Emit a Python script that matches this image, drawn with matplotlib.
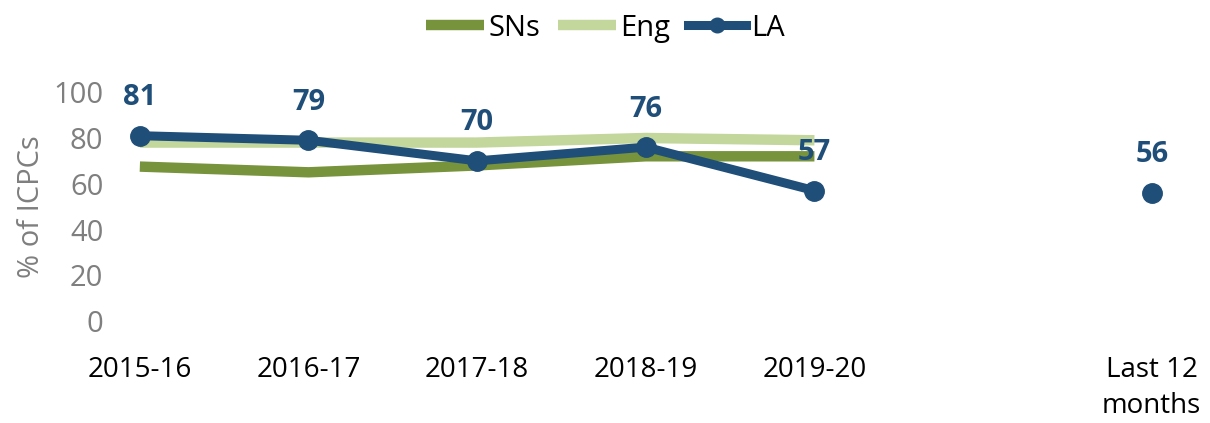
import numpy as np
import matplotlib.pyplot as plt

plt.rcParams['font.family'] = ['Open Sans', 'DejaVu Sans']

# =============================================
#                    DATOS
# =============================================

categorias = ["2015-16", "2016-17", "2017-18", "2018-19", "2019-20", "", "Last 12\nmonths"]
sns_vals = [67.5, 65, 68, 72, 72]
eng_vals = [78, 78, 78, 80, 79]
la_vals = [81, 79, 70, 76, 57]
la_last = 56

c_sns = "#77933C"
c_eng = "#C3D69B"
c_la = "#1F4E79"

# =============================================
#                    PLOT
# =============================================

fig = plt.figure(figsize=(12.1, 4.23), dpi=100)
ax = fig.add_axes([0.0877, 0.241, 0.892, 0.541])

x = np.arange(len(categorias))
x5 = x[:5]

ax.plot(x5, sns_vals, color=c_sns, linewidth=7.5, solid_capstyle="butt", label="SNs", zorder=2)
ax.plot(x5, eng_vals, color=c_eng, linewidth=7.5, solid_capstyle="butt", label="Eng", zorder=1)
ax.plot(x5, la_vals, color=c_la, linewidth=6.5, marker="o", markersize=14,
        label="LA", zorder=3, clip_on=False)
ax.plot([x[6]], [la_last], color=c_la, marker="o", markersize=14, linestyle="none",
        zorder=3, clip_on=False)

# etiquetas de datos
for xi, v in zip(list(x5) + [x[6]], la_vals + [la_last]):
    ax.annotate(str(v), (xi, v), xytext=(0, 17), textcoords="offset points",
                ha="center", va="bottom", fontsize=21, fontweight="bold", color=c_la)

ax.set_xlim(-0.2, 6.2)
ax.set_ylim(0, 100)
ax.set_yticks(np.arange(0, 101, 20))
ax.set_xticks(x)
ax.set_xticklabels(categorias)
ax.tick_params(axis="y", length=0, labelsize=21, labelcolor="#7F7F7F", pad=2)
ax.tick_params(axis="x", length=0, labelsize=20, labelcolor="black", pad=25)
for lbl in ax.get_xticklabels():
    lbl.set_verticalalignment("top")
    lbl.set_linespacing(1.4)
for s in ax.spines.values():
    s.set_visible(False)

ax.set_ylabel("% of ICPCs", fontsize=21, color="#7F7F7F", labelpad=5)

leg = fig.legend(loc="upper center", bbox_to_anchor=(0.5, 1.03), ncol=3, frameon=False,
                 fontsize=21, handlelength=2.0, handletextpad=0.15, columnspacing=0.6,
                 markerscale=0.75)

fig.savefig("out.png", dpi=100)
